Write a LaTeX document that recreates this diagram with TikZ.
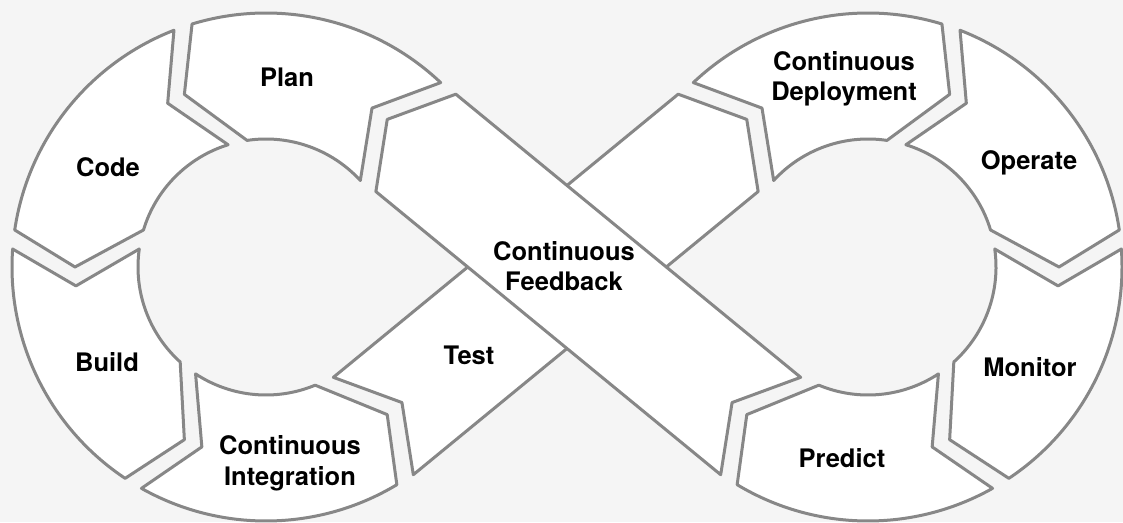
\documentclass[tikz,border=0pt]{standalone}
\usepackage{fontspec}
\setmainfont{TeX Gyre Heros}
\usepackage{tikz}

\definecolor{bggray}{HTML}{F5F5F5}
\definecolor{edgegray}{HTML}{878787}

\begin{document}
\begin{tikzpicture}[x=1pt, y=1pt,
  part/.style={draw=edgegray, fill=white, line width=3pt, line join=round},
  every node/.style={font=\fontsize{25.5}{30.5}\selectfont\bfseries, align=center}]
  % Fondo
  \fill[bggray] (0,0) rectangle (1123,522);
  \useasboundingbox (0,0) rectangle (1123,522);

  % Loops (the right one is the mirror of the left one)
\foreach \cx/\s in {266/1, 868/-1}{
\begin{scope}[shift={(\cx,255)}, xscale=\s]
  \foreach \a/\b in {50.61/115.305, 115.305/180, 180/244.695, 244.695/309.39}
  \draw[part] ({\a-4.06}:254) arc[start angle=\a-4.06, end angle=\b-8.38, radius=254]
    -- (\b:191) -- ({\b-16.8}:128) arc[start angle=\b-16.8, end angle=\a-8.08, radius=128]
    -- ({\a+5.68}:191) -- cycle;
\end{scope}
}

  % Crossing bands: Test first, Continuous Feedback on top
\foreach \s in {1,-1}
\draw[part, shift={(567,255)}, xscale=\s, rotate=39.39]
  (-250.6,63) -- (-213.6,0) -- (-250.6,-63) -- (195.6,-63) -- (232.6,0) -- (195.6,63) -- cycle;

  % Labels
  \node (plan) at (287,445) {Plan};
  \node (code) at (108,355) {Code};
  \node (build) at (107,160) {Build};
  \node (integration) at (290,58.6) {Continuous\\Integration};
  \node (test) at (469,167) {Test};
  \node (feedback) at (564,256) {Continuous\\Feedback};
  \node (deployment) at (844,443) {Continuous\\Deployment};
  \node (operate) at (1029,359.5) {Operate};
  \node (monitor) at (1030,155) {Monitor};
  \node (predict) at (842,64) {Predict};

\end{tikzpicture}
\end{document}
